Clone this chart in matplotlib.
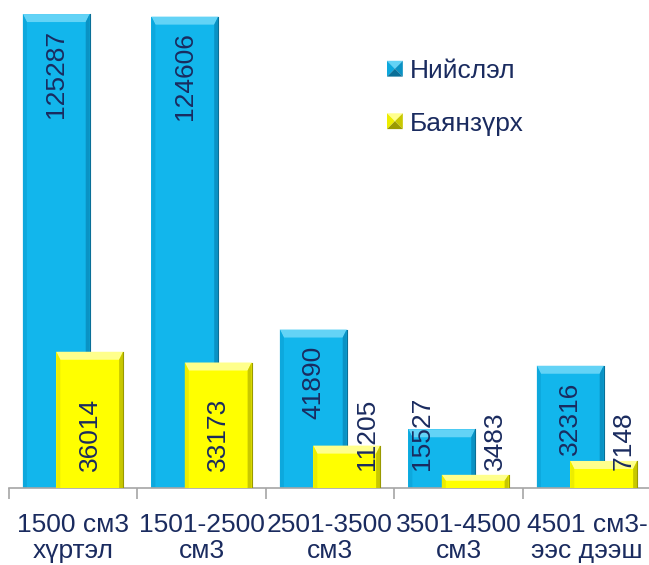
import matplotlib
matplotlib.use('Agg')
import matplotlib.pyplot as plt
from matplotlib.patches import Polygon, Rectangle
from matplotlib.legend_handler import HandlerBase

categories = ['1500 см3\nхүртэл', '1501-2500\nсм3', '2501-3500\nсм3',
              '3501-4500\nсм3', '4501 см3-\nээс дээш']
series_names = ['Нийслэл', 'Баянзүрх']
niislel = [125287, 124606, 41890, 15527, 32316]
bayanzurkh = [36014, 33173, 11205, 3483, 7148]

plt.rcParams['font.family'] = ['Liberation Sans', 'DejaVu Sans']
TXT = '#1A2B5F'
BLUE = ('#12B6EC', '#63D3F6', '#0DA8DD', '#0A92C4', '#0A6F97')
YELLOW = ('#FFFF00', '#FFFF8C', '#EDED00', '#C8C800', '#9A9A00')

W, H = 649, 565
fig = plt.figure(figsize=(W / 100, H / 100), dpi=100)
ax = fig.add_axes([8.75 / W, 77 / H, 642.5 / W, 488 / H])
ax.set_xlim(-0.5, 4.5)
ax.set_ylim(0, 129000)
px = 5 / 642.5
py = 129000 / 488

width = 0.52
offset = 0.13
FS = 19
fs_px = FS * 100 / 72


def bevel_bars(xs, vals, cols, z):
    face, top, left, right, edge = cols
    bars = ax.bar(xs, vals, width, color=face, zorder=z, linewidth=0)
    for r in bars:
        x0 = r.get_x()
        x1 = x0 + r.get_width()
        h = r.get_height()
        b = min(8 * py, h * 0.45)
        s = 4 * px
        ax.add_patch(Polygon([(x0, h), (x1, h), (x1 - s, h - b), (x0 + s, h - b)],
                             closed=True, color=top, lw=0, zorder=z))
        ax.add_patch(Polygon([(x0, 0), (x0, h), (x0 + s, h - b), (x0 + s, 0)],
                             closed=True, color=left, lw=0, zorder=z))
        ax.add_patch(Polygon([(x1, 0), (x1, h), (x1 - s, h - b), (x1 - s, 0)],
                             closed=True, color=right, lw=0, zorder=z))
        ax.plot([x1, x1], [0, h], color=edge, lw=0.8, zorder=z)
    return bars


xs = list(range(len(categories)))
xb = [x - offset for x in xs]
xy = [x + offset for x in xs]
bevel_bars(xb, niislel, BLUE, 2)
bevel_bars(xy, bayanzurkh, YELLOW, 3)


def text_len_px(v):
    return len(str(v)) * 0.556 * fs_px


for x, v in zip(xb, niislel):
    bar_px = v / py
    if bar_px >= text_len_px(v) + 30:
        ax.text(x, v - 16 * py, str(v), rotation=90, ha='center', va='top',
                fontsize=FS, color=TXT, zorder=6)
    else:
        ax.text(x - 20 * px, 18 * py, str(v), rotation=90, ha='center', va='bottom',
                fontsize=FS, color=TXT, zorder=6)

for x, v in zip(xy, bayanzurkh):
    bar_px = v / py
    if bar_px >= text_len_px(v) + 30:
        ax.text(x, 17 * py, str(v), rotation=90, ha='center', va='bottom',
                fontsize=FS, color=TXT, zorder=6)
    else:
        ax.text(x + 20 * px, 18 * py, str(v), rotation=90, ha='center', va='bottom',
                fontsize=FS, color=TXT, zorder=6)

for sp in ['left', 'top', 'right']:
    ax.spines[sp].set_visible(False)
ax.spines['bottom'].set_color('#A6A6A6')
ax.spines['bottom'].set_linewidth(1.2)
ax.set_yticks([])
ax.set_xticks(xs)
ax.set_xticklabels(categories, fontsize=FS, color=TXT, linespacing=1.12)
ax.tick_params(axis='x', which='major', length=0, pad=18)
ax.set_xticks([x - 0.5 for x in xs] + [xs[-1] + 0.5], minor=True)
ax.tick_params(axis='x', which='minor', length=8, color='#A6A6A6', width=1.2)
ax.patch.set_alpha(0)


class PyramidHandler(HandlerBase):
    def __init__(self, cols):
        super().__init__()
        self.cols = cols

    def create_artists(self, legend, orig_handle, xdescent, ydescent, width, height,
                       fontsize, trans):
        face, top, left, right, edge = self.cols
        s = min(width, height)
        x0 = -xdescent + (width - s) / 2
        y0 = -ydescent + (height - s) / 2
        x1, y1 = x0 + s, y0 + s
        cx, cy = x0 + s / 2, y0 + s / 2
        arts = [
            Polygon([(x0, y1), (x1, y1), (cx, cy)], closed=True, color=top, lw=0),
            Polygon([(x0, y0), (x0, y1), (cx, cy)], closed=True, color=left, lw=0),
            Polygon([(x1, y0), (x1, y1), (cx, cy)], closed=True, color=right, lw=0),
            Polygon([(x0, y0), (x1, y0), (cx, cy)], closed=True, color=edge, lw=0),
        ]
        for a in arts:
            a.set_transform(trans)
        return arts


h1 = Rectangle((0, 0), 1, 1, color=BLUE[0])
h2 = Rectangle((0, 0), 1, 1, color=YELLOW[0])
leg = ax.legend([h1, h2], series_names, loc='upper left',
                bbox_to_anchor=(387 / W, 1 - 59 / H), bbox_transform=fig.transFigure,
                frameon=False, fontsize=FS, handlelength=0.6, handleheight=0.6,
                handletextpad=0.28, labelspacing=1.08, borderpad=0, borderaxespad=0,
                handler_map={h1: PyramidHandler(BLUE), h2: PyramidHandler(YELLOW)})
for t in leg.get_texts():
    t.set_color(TXT)

fig.savefig('out.png', dpi=100)
